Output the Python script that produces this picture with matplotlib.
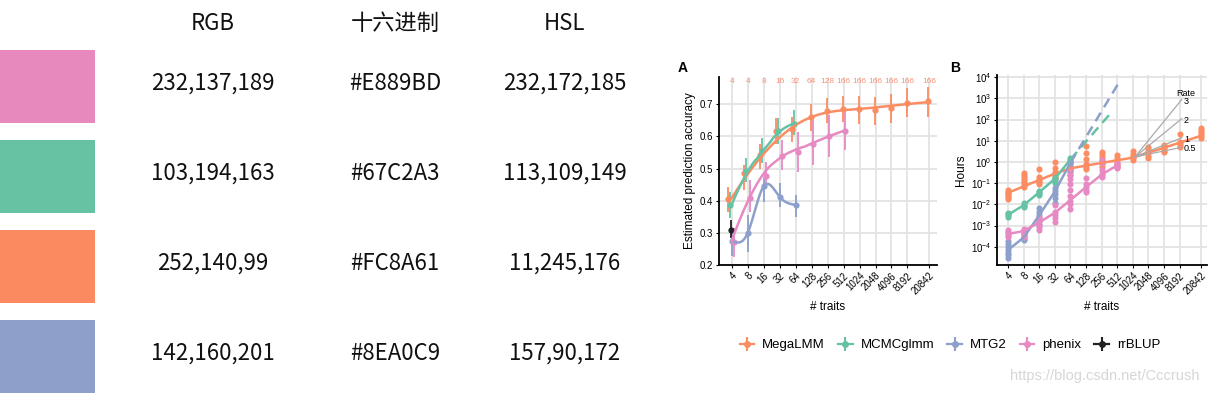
import numpy as np
import matplotlib
matplotlib.use("Agg")
import matplotlib.pyplot as plt
from matplotlib.patches import Rectangle
from matplotlib.lines import Line2D
from matplotlib.legend_handler import HandlerTuple

plt.rcParams['font.family'] = ['Liberation Sans', 'DejaVu Sans']

# ---- colour table (left) ----
swatch_colors = ['#E889BD', '#67C2A3', '#FC8A61', '#8EA0C9']
rgb_text = ['232,137,189', '103,194,163', '252,140,99', '142,160,201']
hex_text = ['#E889BD', '#67C2A3', '#FC8A61', '#8EA0C9']
hsl_text = ['232,172,185', '113,109,149', '11,245,176', '157,90,172']
table_headers = ['RGB', '十六进制', 'HSL']

# ---- panel A: prediction accuracy ----
traits = [4, 8, 16, 32, 64, 128, 256, 512, 1024, 2048, 4096, 8192, 20842]
n_label = [4, 4, 8, 16, 32, 64, 128, 166, 166, 166, 166, 166, 166]

mega_acc = [0.404, 0.487, 0.542, 0.617, 0.624, 0.659, 0.680, 0.684, 0.684, 0.682, 0.687, 0.703, 0.711]
mega_lo = [0.366, 0.433, 0.500, 0.578, 0.584, 0.617, 0.641, 0.646, 0.638, 0.636, 0.641, 0.662, 0.662]
mega_hi = [0.444, 0.511, 0.578, 0.656, 0.662, 0.700, 0.719, 0.726, 0.727, 0.724, 0.731, 0.750, 0.755]

mcmc_acc = [0.387, 0.494, 0.555, 0.618, 0.640]
mcmc_lo = [0.345, 0.459, 0.516, 0.578, 0.604]
mcmc_hi = [0.426, 0.534, 0.594, 0.656, 0.682]

mtg2_acc = [0.275, 0.300, 0.445, 0.412, 0.387]
mtg2_lo = [0.228, 0.241, 0.397, 0.382, 0.350]
mtg2_hi = [0.305, 0.356, 0.470, 0.454, 0.418]

phenix_acc = [0.272, 0.408, 0.478, 0.540, 0.553, 0.578, 0.600, 0.617]
phenix_lo = [0.226, 0.366, 0.440, 0.496, 0.490, 0.510, 0.536, 0.558]
phenix_hi = [0.314, 0.465, 0.520, 0.589, 0.614, 0.650, 0.666, 0.688]

rrblup_acc = [0.309]
rrblup_lo = [0.284]
rrblup_hi = [0.340]

# ---- panel B: run time (hours) ----
mega_line_h = [0.035, 0.07, 0.14, 0.28, 0.5, 0.67, 0.9, 1.2, 1.6, 2.75, 4.7, 8.1, 17]
mcmc_line_h = [0.0032, 0.009, 0.037, 0.16, 1.3]
mtg2_line_h = [0.00007, 0.00027, 0.003, 0.04, 0.9]
phenix_line_h = [0.0004, 0.00055, 0.0014, 0.004, 0.016, 0.065, 0.25, 0.7]

mega_pts = [
    [0.018, 0.022, 0.026, 0.03, 0.035, 0.04, 0.046],
    [0.065, 0.08, 0.1, 0.12, 0.15, 0.19, 0.24, 0.3],
    [0.09, 0.11, 0.13, 0.16, 0.2, 0.45],
    [0.15, 0.2, 0.27, 0.35, 0.5, 1.0],
    [0.35, 0.42, 0.5, 0.6],
    [0.45, 0.6, 0.8, 1.4, 2.6, 5.5],
    [0.6, 0.8, 1.0, 1.3, 1.8, 2.5, 3.0],
    [0.55, 0.7, 0.9, 1.2, 1.6, 2.1],
    [1.2, 1.5, 1.9, 2.5, 3.2],
    [1.5, 2.0, 2.6, 3.3, 4.2, 5.2],
    [2.8, 3.4, 4.2, 5.0, 6.0],
    [5.0, 6.2, 7.5, 9.0, 21.0],
    [14, 17, 21, 26, 32, 40],
]
mcmc_pts = [
    [0.0025, 0.003, 0.0035, 0.004],
    [0.0075, 0.0085, 0.0095, 0.011],
    [0.028, 0.032, 0.037, 0.042],
    [0.1, 0.13, 0.16, 0.2],
    [0.9, 1.1, 1.3, 1.5],
]
mtg2_pts = [
    [0.00003, 0.00004, 0.00005, 0.00007, 0.0001, 0.00014, 0.00018],
    [0.0002, 0.00024, 0.00028, 0.00035, 0.00045],
    [0.0011, 0.0016, 0.0023, 0.0032, 0.0045, 0.0065],
    [0.012, 0.02, 0.03, 0.045, 0.06],
    [0.25, 0.4, 0.6, 0.8, 1.0],
]
phenix_pts = [
    [0.0003, 0.00036, 0.00043, 0.0005, 0.0006],
    [0.0003, 0.0004, 0.0005, 0.0006, 0.0007],
    [0.0006, 0.0009, 0.0012, 0.0016, 0.0025],
    [0.0015, 0.0022, 0.003, 0.0045, 0.009],
    [0.006, 0.01, 0.015, 0.025, 0.05, 0.09, 0.15, 0.25, 0.45],
    [0.04, 0.05, 0.065, 0.09, 0.17],
    [0.2, 0.23, 0.27, 0.4, 0.9, 1.3],
    [0.5, 0.6, 0.7, 0.85],
]
mcmc_ext_x = [64, 415]
mcmc_ext_h = [1.3, 250]
mtg2_ext_x = [64, 530]
mtg2_ext_h = [0.9, 4700]

rates = [3, 2, 1, 0.5]
rate_labels = ['3', '2', '1', '0.5']
rate_origin = (2 ** 10.14, 10 ** 0.24)
rate_end_x = 2 ** 13.13

methods = ['MegaLMM', 'MCMCglmm', 'MTG2', 'phenix', 'rrBLUP']
colors = ['#FC8D62', '#66C2A5', '#8DA0CB', '#E78AC3', '#222222']


def loess(x, y, grid, span=0.75):
    x = np.asarray(x, float)
    y = np.asarray(y, float)
    n = len(x)
    q = min(n, max(int(np.ceil(span * n)), 4))
    out = []
    for g in grid:
        d = np.abs(x - g)
        h = np.sort(d)[q - 1] * 1.15 + 1e-9
        w = np.clip(1 - (d / h) ** 3, 0, 1) ** 3
        c = np.polyfit(x - g, y, 2, w=np.sqrt(w))
        out.append(c[-1])
    return np.array(out)


def spline(x, y, grid):
    # natural cubic spline through the points
    x = np.asarray(x, float)
    y = np.asarray(y, float)
    n = len(x)
    h = np.diff(x)
    A = np.zeros((n, n))
    r = np.zeros(n)
    A[0, 0] = A[-1, -1] = 1
    for i in range(1, n - 1):
        A[i, i - 1] = h[i - 1]
        A[i, i] = 2 * (h[i - 1] + h[i])
        A[i, i + 1] = h[i]
        r[i] = 3 * ((y[i + 1] - y[i]) / h[i] - (y[i] - y[i - 1]) / h[i - 1])
    c = np.linalg.solve(A, r)
    b = (y[1:] - y[:-1]) / h - h * (2 * c[:-1] + c[1:]) / 3
    d = (c[1:] - c[:-1]) / (3 * h)
    idx = np.clip(np.searchsorted(x, grid) - 1, 0, n - 2)
    dx = grid - x[idx]
    return y[idx] + b[idx] * dx + c[idx] * dx ** 2 + d[idx] * dx ** 3


fig = plt.figure(figsize=(12.14, 3.94), dpi=100)

# ---------------- left table ----------------
ax0 = fig.add_axes([0, 0, 660 / 1214, 1])
ax0.set_xlim(0, 660)
ax0.set_ylim(394, 0)
ax0.axis('off')
cjk = ['Noto Sans CJK SC', 'DejaVu Sans']
col_x = [213, 395, 565]
row_top = [50, 140, 230, 320]
for cx, h in zip(col_x, table_headers):
    ax0.text(cx, 23, h, ha='center', va='center', fontsize=16, family=cjk, color='#111111')
for i, c in enumerate(swatch_colors):
    ax0.add_patch(Rectangle((0, row_top[i]), 95, 73, color=c, lw=0))
    yc = row_top[i] + 33
    for cx, t in zip(col_x, [rgb_text[i], hex_text[i], hsl_text[i]]):
        ax0.text(cx, yc, t, ha='center', va='center', fontsize=16, family=cjk, color='#111111')


def style_axes(ax):
    for s in ['top', 'right']:
        ax.spines[s].set_visible(False)
    for s in ['left', 'bottom']:
        ax.spines[s].set_linewidth(1.3)
        ax.spines[s].set_color('black')
    ax.grid(True, color='#E3E3E3', lw=1.3)
    ax.set_axisbelow(True)
    ax.tick_params(labelsize=7, length=2.5, width=0.8, colors='black', pad=1.5)
    lx = np.log2(traits)
    ax.set_xticks(lx)
    ax.set_xticklabels([str(t) for t in traits], rotation=45, ha='right',
                       va='top', rotation_mode='anchor')
    ax.set_xlabel('# traits', fontsize=8.5, labelpad=3)


# ---------------- panel A ----------------
axA = fig.add_axes([719 / 1214, 1 - 265 / 394, 218 / 1214, 188 / 394])
lt = np.log2(traits)
series_a = [
    (mega_acc, mega_lo, mega_hi, colors[0], -0.22, -0.05, 'loess'),
    (mcmc_acc, mcmc_lo, mcmc_hi, colors[1], -0.13, 0.0, 'loess'),
    (mtg2_acc, mtg2_lo, mtg2_hi, colors[2], 0.0, 0.0, 'spline'),
    (phenix_acc, phenix_lo, phenix_hi, colors[3], 0.16, 0.1, 'loess'),
    (rrblup_acc, rrblup_lo, rrblup_hi, colors[4], -0.05, 0.0, None),
]
for acc, lo, hi, col, off_s, off_l, smooth in series_a:
    n = len(acc)
    xx = lt[:n] + np.where(np.array(traits[:n]) <= 64, off_s, off_l)
    axA.vlines(xx, lo, hi, color=col, lw=1.3, zorder=2)
    axA.plot(xx, acc, 'o', color=col, ms=4.5, mec='none', zorder=3)
    if smooth:
        grid = np.linspace(lt[0], lt[n - 1], 200)
        yy = loess(lt[:n], acc, grid) if smooth == 'loess' else spline(lt[:n], acc, grid)
        axA.plot(grid, yy, color=col, lw=1.8, zorder=4)
for x, t in zip(lt, n_label):
    axA.text(x, 0.77, str(t), ha='center', va='center', fontsize=6, color='#F7927A')
axA.set_xlim(1.2, 14.85)
axA.set_ylim(0.2, 0.785)
axA.set_yticks([0.2, 0.3, 0.4, 0.5, 0.6, 0.7])
style_axes(axA)
axA.set_ylabel('Estimated prediction accuracy', fontsize=8.5, labelpad=3)
fig.text(678 / 1214, 1 - 68 / 394, 'A', fontsize=10, fontweight='bold', va='center')

# ---------------- panel B ----------------
axB = fig.add_axes([997 / 1214, 1 - 265 / 394, 210 / 1214, 190 / 394])
axB.set_yscale('log')
series_b = [
    (mega_pts, mega_line_h, colors[0]),
    (mcmc_pts, mcmc_line_h, colors[1]),
    (mtg2_pts, mtg2_line_h, colors[2]),
    (phenix_pts, phenix_line_h, colors[3]),
]
for pts, line_h, col in series_b:
    n = len(line_h)
    for i in range(n):
        axB.plot(np.full(len(pts[i]), lt[i]), pts[i], 'o', color=col, ms=4.4,
                 mec='none', zorder=3)
    axB.plot(lt[:n], line_h, color=col, lw=1.8, zorder=4)
axB.plot(np.log2(mcmc_ext_x), mcmc_ext_h, color=colors[1], lw=1.8, ls=(0, (4, 2.5)), zorder=4)
axB.plot(np.log2(mtg2_ext_x), mtg2_ext_h, color=colors[2], lw=1.8, ls=(0, (4, 2.5)), zorder=4)
ox, oy = np.log2(rate_origin[0]), rate_origin[1]
ex = np.log2(rate_end_x)
for r, lab in zip(rates, rate_labels):
    ey = oy * 2 ** (r * (ex - ox))
    axB.plot([ox, ex], [oy, ey], color='#AAAAAA', lw=0.9, zorder=5)
    axB.text(ex + 0.15, ey * 10 ** -0.07, lab, fontsize=6.5, ha='left', va='center', zorder=6)
axB.text(13.4, 10 ** 3.24, 'Rate', fontsize=6.5, ha='center', va='center')
axB.set_xlim(1.3, 14.75)
axB.set_ylim(10 ** -4.86, 10 ** 4.1)
axB.set_yticks(10.0 ** np.arange(-4, 5))
style_axes(axB)
axB.yaxis.set_minor_locator(matplotlib.ticker.NullLocator())
axB.set_ylabel('Hours', fontsize=8.5, labelpad=3)
fig.text(950 / 1214, 1 - 68 / 394, 'B', fontsize=10, fontweight='bold', va='center')

# ---------------- legend ----------------
handles = []
for c in colors:
    handles.append((Line2D([], [], color=c, lw=1.6, marker='o', ms=5, mec='none'),
                    Line2D([], [], color=c, lw=0, marker='|', ms=10, mew=1.5)))
fig.legend(handles, methods, loc='center', bbox_to_anchor=(950 / 1214, 1 - 345 / 394),
           ncol=5, frameon=False, fontsize=9.5, handlelength=1.1, handletextpad=0.6,
           columnspacing=1.0,
           handler_map={tuple: HandlerTuple(ndivide=1, pad=0)})

fig.text(1105 / 1214, 1 - 376 / 394, 'https://blog.csdn.net/Cccrush', ha='center',
         va='center', fontsize=10.5, color='#D6D6D6')

fig.savefig('out.png', dpi=100)
